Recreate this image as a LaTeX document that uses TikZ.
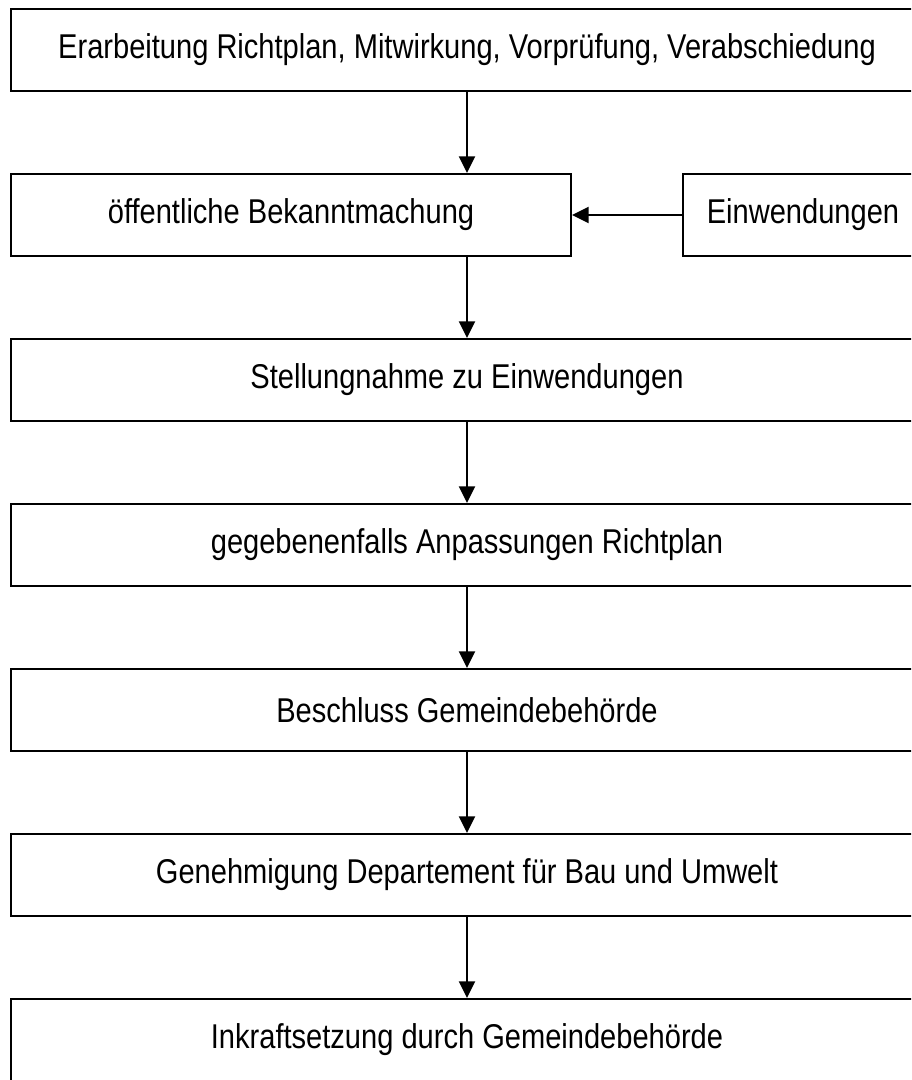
\documentclass[tikz,border=0pt]{standalone}
\usepackage{fontspec}
\usetikzlibrary{arrows.meta}
\newfontfamily\boxfont[FakeStretch=0.845]{Liberation Sans}
\tikzset{
    stage/.style={draw, line width=1.6pt, minimum height=61.5pt, inner sep=0pt,
        font=\boxfont\fontsize{25.8}{30}\selectfont},
    flow/.style={line width=1.6pt, -{Triangle[length=12.5pt, width=12pt]}}
}
\begin{document}
\begin{tikzpicture}[x=0.75pt, y=-0.75pt]
        \clip (0,0) rectangle (911,1080);

        % Main chain
        \node[stage, minimum width=684pt] (erarb) at (467,50) {Erarbeitung Richtplan, Mitwirkung, Vorprüfung, Verabschiedung};
        \node[stage, minimum width=420pt] (oeff) at (291,215) {öffentliche Bekanntmachung};
        \node[stage, minimum width=180pt] (einw) at (803,215) {Einwendungen};
        \node[stage, minimum width=684pt] (stell) at (467,380) {Stellungnahme zu Einwendungen};
        \node[stage, minimum width=684pt] (anpass) at (467,545) {gegebenenfalls Anpassungen Richtplan};
        \node[stage, minimum width=684pt] (beschl) at (467,710) {Beschluss Gemeindebehörde};
        \node[stage, minimum width=684pt] (genehm) at (467,875) {Genehmigung Departement für Bau und Umwelt};
        \node[stage, minimum width=684pt] (inkraft) at (467,1040) {Inkraftsetzung durch Gemeindebehörde};

        % Arrows
        \draw[flow] (erarb.south) -- (erarb.south |- oeff.north);
        \draw[flow] (einw.west) -- (oeff.east);
        \draw[flow] (oeff.south -| erarb.south) -- (stell.north);
        \draw[flow] (stell.south) -- (anpass.north);
        \draw[flow] (anpass.south) -- (beschl.north);
        \draw[flow] (beschl.south) -- (genehm.north);
        \draw[flow] (genehm.south) -- (inkraft.north);
    \end{tikzpicture}
\end{document}
